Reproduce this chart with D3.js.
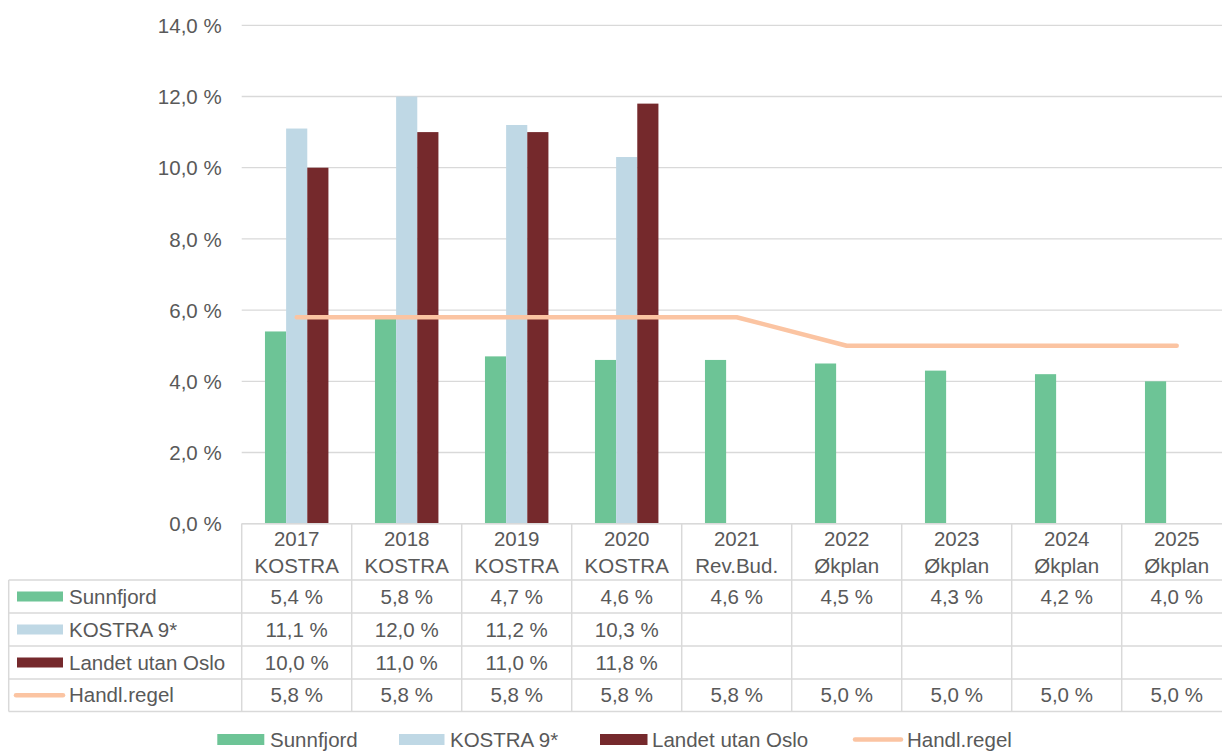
<!DOCTYPE html>
<html>
<head>
<meta charset="utf-8">
<script src="https://cdn.jsdelivr.net/npm/d3@7"></script>
<style>
html,body{margin:0;padding:0;background:#fff;}
svg{display:block;font-family:"Liberation Sans",Arial,sans-serif;}
</style>
</head>
<body>
<svg id="chart" width="1222" height="751"></svg>
<script>
const years = ["2017","2018","2019","2020","2021","2022","2023","2024","2025"];
const subLabels = ["KOSTRA","KOSTRA","KOSTRA","KOSTRA","Rev.Bud.","Økplan","Økplan","Økplan","Økplan"];
const sunnfjord = [5.4,5.8,4.7,4.6,4.6,4.5,4.3,4.2,4.0];
const kostra9 = [11.1,12.0,11.2,10.3,null,null,null,null,null];
const landet = [10.0,11.0,11.0,11.8,null,null,null,null,null];
const handlRegel = [5.8,5.8,5.8,5.8,5.8,5.0,5.0,5.0,5.0];
const seriesNames = ["Sunnfjord","KOSTRA 9*","Landet utan Oslo"];
const lineName = "Handl.regel";
const yTickValues = [0,2,4,6,8,10,12,14];

const colors = {"Sunnfjord":"#6dc496","KOSTRA 9*":"#bfd8e5","Landet utan Oslo":"#75292c","Handl.regel":"#fbc4a2"};
const textColor = "#595959";
const gridColor = "#d9d9d9";
const fontSize = 20.5;

const svg = d3.select("#chart");
const fmt = v => v.toFixed(1).replace(".", ",") + " %";

const x = d3.scaleBand().domain(years).range([241.7, 1231.7]).paddingInner(0).paddingOuter(0);
const x1 = d3.scaleBand().domain(seriesNames).range([0, x.bandwidth()]).paddingInner(0).paddingOuter(1.1);
const y = d3.scaleLinear().domain([0,14]).range([523.7, 25.3]);

// gridlines
svg.append("g").selectAll("line").data(yTickValues).join("line")
  .attr("x1", 241.7).attr("x2", 1222)
  .attr("y1", d => y(d)).attr("y2", d => y(d))
  .attr("stroke", gridColor).attr("stroke-width", 1.3);

// y labels
const yAxis = d3.axisLeft(y).tickValues(yTickValues).tickFormat(fmt).tickSize(0).tickPadding(0);
const ya = svg.append("g").attr("transform", "translate(221.7,0)").call(yAxis);
ya.select(".domain").remove();
ya.selectAll("text").attr("fill", textColor).style("font-size", fontSize + "px")
  .style("font-family", "'Liberation Sans', Arial, sans-serif").attr("dy", "0.35em");

// bars
const seriesData = [sunnfjord, kostra9, landet];
seriesNames.forEach((name, si) => {
  svg.append("g").selectAll("rect")
    .data(years.map((yr, i) => ({yr, v: seriesData[si][i]})).filter(d => d.v != null))
    .join("rect")
    .attr("x", d => x(d.yr) + x1(name))
    .attr("width", x1.bandwidth())
    .attr("y", d => y(d.v))
    .attr("height", d => y(0) - y(d.v))
    .attr("fill", colors[name]);
});

// line
const line = d3.line().x((d, i) => x(years[i]) + x.bandwidth()/2).y(d => y(d));
svg.append("path").datum(handlRegel).attr("d", line)
  .attr("fill", "none").attr("stroke", colors[lineName]).attr("stroke-width", 4.5)
  .attr("stroke-linecap", "round").attr("stroke-linejoin", "round");

// data table
const tableLeft = 8.7;
const rowEdges = [523.7, 580, 613, 646, 679, 711.5];
const tbl = svg.append("g");
tbl.append("line").attr("x1", 241.7).attr("x2", 1222).attr("y1", rowEdges[0]).attr("y2", rowEdges[0])
  .attr("stroke", gridColor).attr("stroke-width", 1.5);
tbl.selectAll("line.h").data(rowEdges.slice(1)).join("line").attr("class","h")
  .attr("x1", tableLeft).attr("x2", 1222).attr("y1", d => d).attr("y2", d => d)
  .attr("stroke", gridColor).attr("stroke-width", 1.5);
tbl.selectAll("line.v").data(years).join("line").attr("class","v")
  .attr("x1", d => x(d)).attr("x2", d => x(d))
  .attr("y1", rowEdges[0]).attr("y2", rowEdges[5])
  .attr("stroke", gridColor).attr("stroke-width", 1.5);
tbl.append("line").attr("x1", tableLeft).attr("x2", tableLeft).attr("y1", rowEdges[1]).attr("y2", rowEdges[5])
  .attr("stroke", gridColor).attr("stroke-width", 1.5);

// header
const hdr = tbl.append("g");
hdr.selectAll("text.yr").data(years).join("text").attr("class","yr")
  .attr("x", d => x(d) + x.bandwidth()/2).attr("y", 539).attr("dy","0.35em")
  .attr("text-anchor","middle").attr("fill", textColor).style("font-size", fontSize+"px").text(d => d);
hdr.selectAll("text.sub").data(years).join("text").attr("class","sub")
  .attr("x", d => x(d) + x.bandwidth()/2).attr("y", 566).attr("dy","0.35em")
  .attr("text-anchor","middle").attr("fill", textColor).style("font-size", fontSize+"px")
  .text((d,i) => subLabels[i]);

// rows
const rowNames = [...seriesNames, lineName];
const rowData = [sunnfjord, kostra9, landet, handlRegel];
rowNames.forEach((name, ri) => {
  const cy = (rowEdges[ri+1] + rowEdges[ri+2]) / 2;
  if (name === lineName) {
    tbl.append("line").attr("x1", 16).attr("x2", 63).attr("y1", cy).attr("y2", cy)
      .attr("stroke", colors[name]).attr("stroke-width", 4.5).attr("stroke-linecap","round");
  } else {
    tbl.append("rect").attr("x", 17).attr("y", cy - 5).attr("width", 46).attr("height", 10)
      .attr("fill", colors[name]);
  }
  tbl.append("text").attr("x", 69).attr("y", cy).attr("dy","0.35em")
    .attr("fill", textColor).style("font-size", fontSize+"px").text(name);
  tbl.append("g").selectAll("text")
    .data(years.map((yr,i) => ({yr, v: rowData[ri][i]})).filter(d => d.v != null))
    .join("text")
    .attr("x", d => x(d.yr) + x.bandwidth()/2).attr("y", cy).attr("dy","0.35em")
    .attr("text-anchor","middle").attr("fill", textColor).style("font-size", fontSize+"px")
    .text(d => fmt(d.v));
});

// legend
const legendItems = [
  {name:"Sunnfjord", sx:217.3, sw:47, tx:270},
  {name:"KOSTRA 9*", sx:399, sw:45.5, tx:450},
  {name:"Landet utan Oslo", sx:600, sw:47.5, tx:652},
  {name:"Handl.regel", sx:853, sw:50, tx:907}
];
const lg = svg.append("g");
const ly = 739.5;
legendItems.forEach(it => {
  if (it.name === lineName) {
    lg.append("line").attr("x1", it.sx + 2).attr("x2", it.sx + it.sw - 2).attr("y1", ly).attr("y2", ly)
      .attr("stroke", colors[it.name]).attr("stroke-width", 4.5).attr("stroke-linecap","round");
  } else {
    lg.append("rect").attr("x", it.sx).attr("y", ly - 5.5).attr("width", it.sw).attr("height", 11)
      .attr("fill", colors[it.name]);
  }
  lg.append("text").attr("x", it.tx).attr("y", ly).attr("dy","0.35em")
    .attr("fill", textColor).style("font-size", fontSize+"px").text(it.name);
});
</script>
</body>
</html>
